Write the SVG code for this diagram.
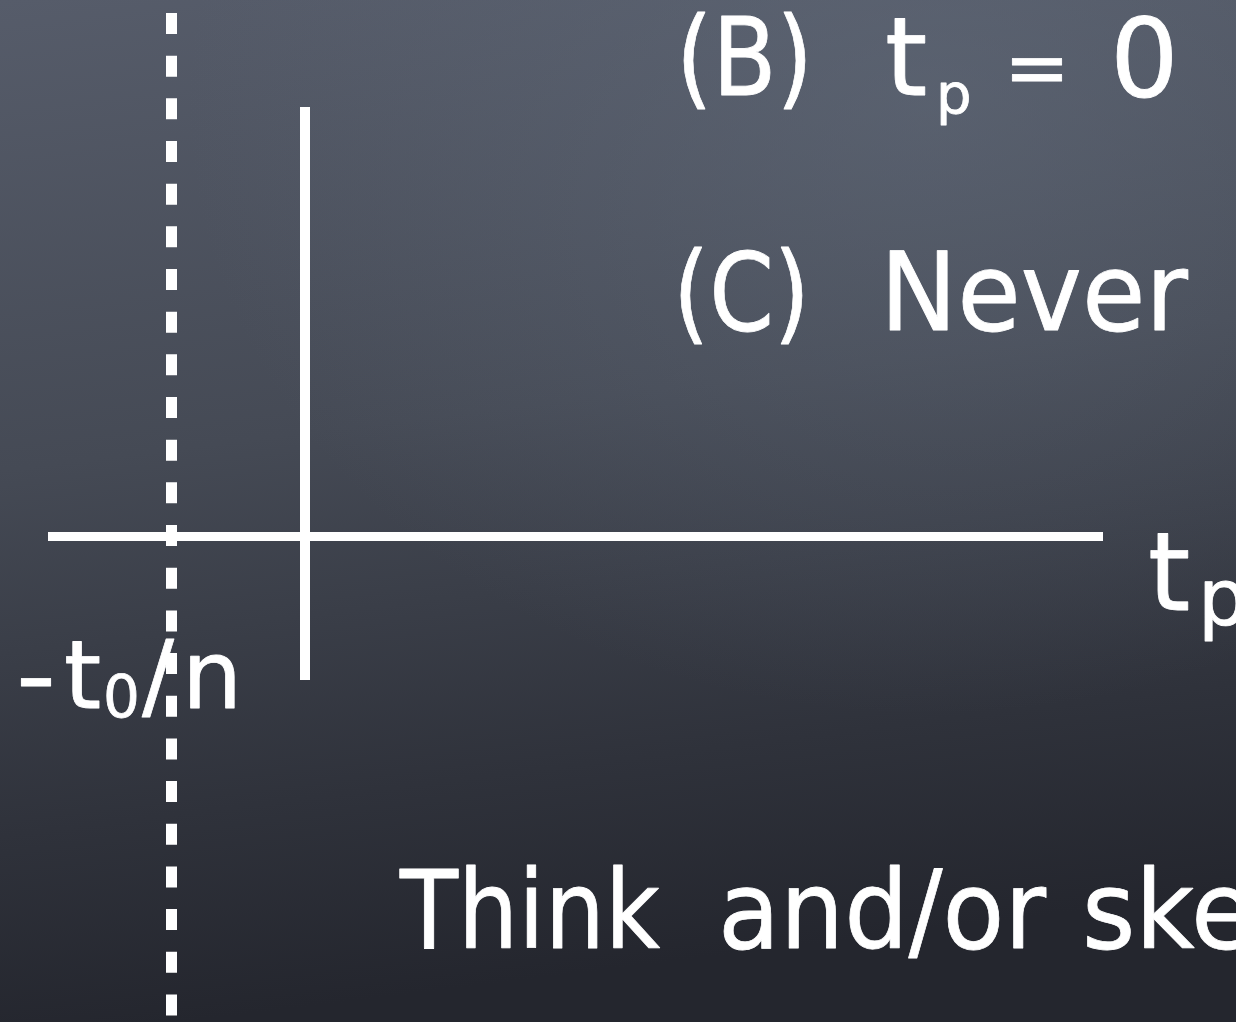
<svg xmlns="http://www.w3.org/2000/svg" width="1236" height="1022" viewBox="0 0 1236 1022">
<defs>
<linearGradient id="bg" x1="0" y1="0" x2="0.15" y2="1">
<stop offset="0" stop-color="#565c6a"/>
<stop offset="0.45" stop-color="#454a55"/>
<stop offset="0.8" stop-color="#2f323b"/>
<stop offset="1" stop-color="#24262e"/>
</linearGradient>
<radialGradient id="glow" cx="0.75" cy="0.1" r="0.6">
<stop offset="0" stop-color="#667080" stop-opacity="0.45"/>
<stop offset="1" stop-color="#667080" stop-opacity="0"/>
</radialGradient>
<style>
.t{font-family:"DejaVu Sans","Liberation Sans",sans-serif;fill:#ffffff;stroke:#ffffff;stroke-width:0.8;stroke-linejoin:round}
.big{font-size:108px}
.ax{stroke:#ffffff;fill:none}
</style>
</defs>
<rect width="1236" height="1022" fill="url(#bg)"/>
<rect width="1236" height="1022" fill="url(#glow)"/>
<g id="axes">
<line class="ax" x1="171.5" y1="13" x2="171.5" y2="1022" stroke-width="11" stroke-dasharray="21 21.67"/>
<line class="ax" x1="305" y1="107" x2="305" y2="680" stroke-width="10"/>
<line class="ax" x1="48" y1="536.5" x2="1103" y2="536.5" stroke-width="9"/>
</g>
<g id="label-B">
<text class="t big" x="676" y="95" textLength="137" lengthAdjust="spacingAndGlyphs">(B)</text>
<text class="t big" x="885" y="95">t</text>
<text class="t" x="936" y="113" font-size="56">p</text>
<text class="t" x="1004" y="95" font-size="80" stroke-width="4" textLength="66" lengthAdjust="spacingAndGlyphs">=</text>
<text class="t big" x="1110" y="96">0</text>
</g>
<g id="label-C">
<text class="t big" x="673" y="330" textLength="137" lengthAdjust="spacingAndGlyphs">(C)</text>
<text class="t big" x="880" y="330" textLength="308" lengthAdjust="spacingAndGlyphs">Never</text>
</g>
<g id="label-tp">
<text class="t big" x="1148" y="610">t</text>
<text class="t" x="1198" y="625" font-size="78">p</text>
</g>
<g id="label-t0n">
<text class="t" y="708" font-size="95"><tspan x="16" textLength="40" lengthAdjust="spacingAndGlyphs">-</tspan></text>
<text class="t" x="64" y="708" font-size="95">t</text>
<text class="t" x="103" y="717" font-size="58">0</text>
<text class="t" x="142" y="708" font-size="95">/</text>
<text class="t" x="182" y="708" font-size="95">n</text>
</g>
<g id="label-think">
<text class="t big" x="400" y="948" textLength="260" lengthAdjust="spacingAndGlyphs">Think</text>
<text class="t big" x="718" y="948" textLength="328" lengthAdjust="spacingAndGlyphs">and/or</text>
<text class="t big" x="1082" y="948" textLength="172" lengthAdjust="spacingAndGlyphs">ske</text>
</g>
</svg>
